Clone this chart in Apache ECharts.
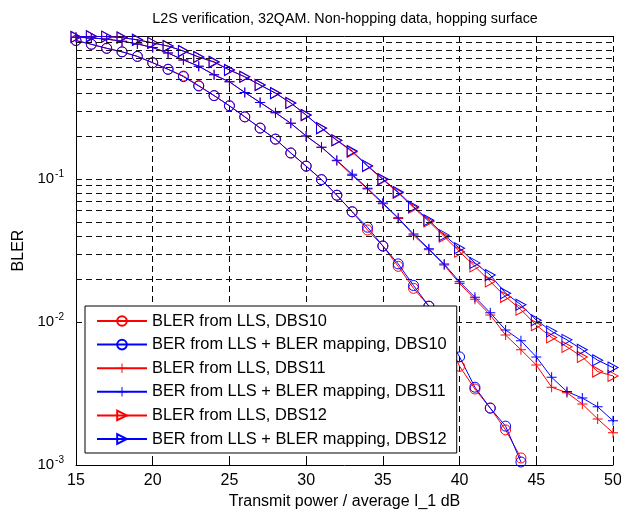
<!DOCTYPE html>
<html>
<head>
<meta charset="utf-8">
<title>L2S verification</title>
<script src="https://cdn.jsdelivr.net/npm/echarts@6/dist/echarts.min.js"></script>
<style>
  html,body{margin:0;padding:0;background:#fff;}
  #main{width:621px;height:511px;}
</style>
</head>
<body>
<div id="main"></div>
<script>
// x values (dB)
var power = [15,16,17,18,19,20,21,22,23,24,25,26,27,28,29,30,31,32,33,34,35,36,37,38,39,40,41,42,43,44,45,46,47,48,49,50];

// DBS10 (circles), stops at 44 dB
var bler10 = [0.93,0.875,0.82,0.775,0.72,0.65,0.585,0.525,0.45,0.383,0.325,0.272,0.227,0.19,0.152,0.123,0.099,0.077,0.059,0.044,0.034,0.0245,0.0172,0.0129,0.0085,0.0049,0.0034,0.0025,0.00176,0.00112];
var ber10  = [0.93,0.875,0.82,0.775,0.72,0.65,0.585,0.52,0.447,0.383,0.325,0.272,0.227,0.19,0.152,0.123,0.099,0.077,0.059,0.046,0.034,0.0255,0.018,0.0129,0.0088,0.0057,0.0035,0.0025,0.00187,0.00105];

// DBS11 (plus)
var bler11 = [0.98,0.97,0.95,0.92,0.88,0.83,0.76,0.68,0.615,0.535,0.478,0.403,0.343,0.291,0.245,0.2,0.167,0.134,0.106,0.085,0.067,0.053,0.0405,0.032,0.025,0.0186,0.0144,0.0112,0.0081,0.0064,0.005,0.0035,0.0032,0.00267,0.0021,0.00168];
var ber11  = [0.98,0.97,0.95,0.92,0.88,0.83,0.76,0.68,0.615,0.535,0.478,0.403,0.343,0.291,0.245,0.2,0.167,0.135,0.108,0.086,0.068,0.0535,0.0412,0.0325,0.0254,0.0191,0.0149,0.0116,0.0088,0.0074,0.0057,0.0041,0.00326,0.00294,0.00255,0.00204];

// DBS12 (triangles)
var bler12 = [0.985,0.995,0.99,0.975,0.94,0.895,0.85,0.785,0.713,0.655,0.578,0.518,0.455,0.398,0.34,0.28,0.226,0.186,0.155,0.123,0.099,0.08,0.063,0.0505,0.0395,0.031,0.0245,0.0192,0.015,0.0122,0.0095,0.0078,0.0067,0.0057,0.0045,0.0042];
var ber12  = [0.985,0.995,0.99,0.975,0.94,0.895,0.85,0.785,0.713,0.66,0.579,0.519,0.454,0.399,0.34,0.28,0.227,0.187,0.157,0.124,0.1,0.081,0.064,0.0515,0.0405,0.0328,0.0259,0.0213,0.0159,0.0132,0.0103,0.0086,0.0075,0.0064,0.0054,0.0048];

var names = ['BLER from LLS, DBS10','BER from LLS + BLER mapping, DBS10','BLER from LLS, DBS11','BER from LLS + BLER mapping, DBS11','BLER from LLS, DBS12','BER from LLS + BLER mapping, DBS12'];

// log grid lines, majors and 2..9 per decade
var logGrid = [0.002,0.003,0.004,0.005,0.006,0.007,0.008,0.009,0.01,0.02,0.03,0.04,0.05,0.06,0.07,0.08,0.09,0.1,0.2,0.3,0.4,0.5,0.6,0.7,0.8,0.9];

var FONT = '"Liberation Sans", Arial, sans-serif';
var RED = '#ff0000', BLUE = '#0000ff';
var plusPath = 'path://M4.5,0h1v4.5h4.5v1h-4.5v4.5h-1v-4.5h-4.5v-1h4.5z';
var triPath = 'path://M0,0L10,5L0,10Z';

function pairs(vals){
  var out = [];
  for(var i=0;i<vals.length;i++){ out.push([power[i], vals[i]]); }
  return out;
}

function mkSeries(name, vals, color, symbol, size, hollow){
  return {
    name: name,
    type: 'line',
    data: pairs(vals),
    symbol: symbol,
    symbolSize: size,
    showAllSymbol: true,
    clip: true,
    animation: false,
    lineStyle: {color: color, width: 1},
    itemStyle: hollow ? {color: 'rgba(0,0,0,0)', borderColor: color, borderWidth: 1}
                      : {color: color, borderWidth: 0},
    emphasis: {disabled: true},
    z: 3
  };
}

var myChart = echarts.init(document.getElementById('main'), null, {renderer: 'canvas'});

var option = {
  backgroundColor: '#fff',
  animation: false,
  title: {
    text: 'L2S verification, 32QAM. Non-hopping data, hopping surface',
    left: 340,
    top: 7,
    textAlign: 'center',
    textStyle: {fontFamily: FONT, fontSize: 14.3, fontWeight: 'normal', color: '#000'}
  },
  grid: {left: 76, right: 8, top: 36, bottom: 46, outerBoundsMode: 'none', containLabel: false},
  legend: {
    data: names,
    orient: 'vertical',
    left: 85,
    top: 306,
    z: 20,
    itemWidth: 50,
    itemHeight: 12,
    itemGap: 7.6,
    padding: [7, 10, 6, 11],
    backgroundColor: '#fff',
    borderColor: '#000',
    borderWidth: 1,
    borderRadius: 0,
    selectedMode: false,
    textStyle: {fontFamily: FONT, fontSize: 16.4, color: '#000'}
  },
  xAxis: [{
    type: 'value',
    min: 15,
    max: 50,
    interval: 5,
    name: 'Transmit power / average I_1 dB',
    nameLocation: 'middle',
    nameGap: 28,
    nameTextStyle: {fontFamily: FONT, fontSize: 16, color: '#000'},
    axisLine: {show: true, onZero: false, lineStyle: {color: '#000', width: 1}},
    axisTick: {show: true, inside: true, length: 5, lineStyle: {color: '#000'}},
    axisLabel: {fontFamily: FONT, fontSize: 16, color: '#000', margin: 8},
    splitLine: {show: true, lineStyle: {color: '#000', type: [6, 4], width: 1}}
  }, {
    type: 'value',
    position: 'top',
    min: 15,
    max: 50,
    interval: 5,
    axisLine: {show: true, lineStyle: {color: '#000', width: 1}},
    axisTick: {show: true, inside: true, length: 5, lineStyle: {color: '#000'}},
    axisLabel: {show: false},
    splitLine: {show: false}
  }],
  yAxis: {
    type: 'log',
    logBase: 10,
    min: 0.001,
    max: 1,
    name: 'BLER',
    nameLocation: 'middle',
    nameGap: 41,
    nameTextStyle: {fontFamily: FONT, fontSize: 16, color: '#000'},
    axisLine: {show: true, lineStyle: {color: '#000', width: 1}},
    axisTick: {show: true, inside: true, length: 5, lineStyle: {color: '#000'}},
    axisLabel: {
      margin: 12,
      formatter: function(v){
        var e = Math.round(Math.log(v) / Math.LN10);
        if(e === 0) return '';
        return '{b|10}{s|' + e + '}';
      },
      rich: {
        b: {fontFamily: FONT, fontSize: 15, color: '#000'},
        s: {fontFamily: FONT, fontSize: 10, color: '#000', verticalAlign: 'top', padding: [0, 0, 9, 1]}
      }
    },
    splitLine: {show: false}
  },
  series: [
    // horizontal grid lines of the log axis
    {
      type: 'line',
      data: [],
      z: 1,
      silent: true,
      markLine: {
        silent: true,
        symbol: 'none',
        animation: false,
        label: {show: false},
        lineStyle: {color: '#111', type: [6, 4], width: 1},
        data: logGrid.map(function(v){ return {yAxis: v}; })
      }
    },
    mkSeries(names[0], bler10, RED, 'circle', 10, true),
    mkSeries(names[1], ber10, BLUE, 'circle', 10, true),
    mkSeries(names[2], bler11, RED, plusPath, 10, false),
    mkSeries(names[3], ber11, BLUE, plusPath, 10, false),
    mkSeries(names[4], bler12, RED, triPath, [10, 11], true),
    mkSeries(names[5], ber12, BLUE, triPath, [10, 11], true)
  ]
};

myChart.setOption(option);
</script>
</body>
</html>
